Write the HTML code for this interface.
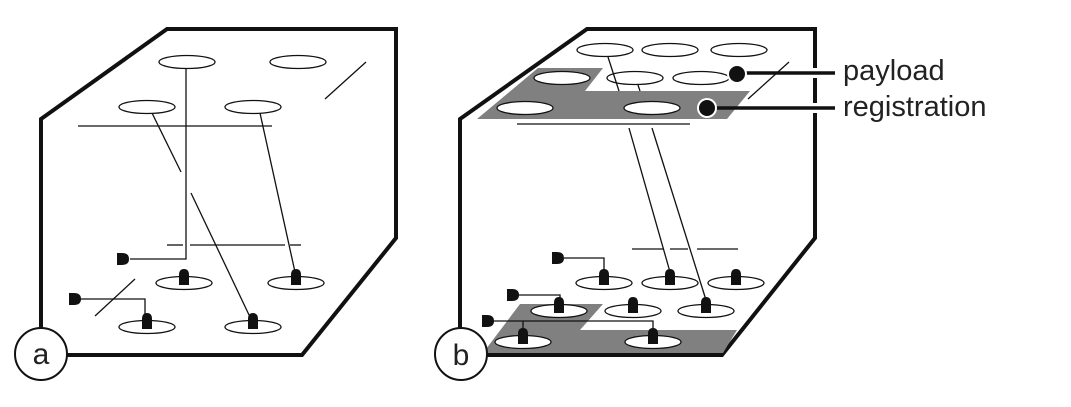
<!DOCTYPE html>
<html><head><meta charset="utf-8"><style>body{margin:0;background:#fff}svg{display:block}</style></head><body>
<svg width="1071" height="407" viewBox="0 0 1071 407" xmlns="http://www.w3.org/2000/svg">
<defs>
<g id="dome"><path d="M-5,2 L-5,-8 Q-5,-14 0,-14 Q5,-14 5,-8 L5,2 Z" fill="#111"/></g>
<g id="cap"><path d="M0,-6 L5,-6 Q12,-6 12,0 Q12,6 5,6 L0,6 Z" fill="#111"/></g>
</defs>
<g fill="none" stroke="#111">
<!-- cube a -->
<polygon points="41,119 167,29 396,29 396,238 302,355 41,355" stroke-width="4" fill="#fff"/>
<g stroke-width="1.3" fill="#fff">
<ellipse cx="187" cy="62" rx="28" ry="6.5"/><ellipse cx="298" cy="62" rx="28" ry="6.5"/>
<ellipse cx="147" cy="107" rx="28" ry="6.5"/><ellipse cx="253" cy="107" rx="28" ry="6.5"/>
<ellipse cx="184" cy="283" rx="28" ry="6.5"/><ellipse cx="296" cy="283" rx="28" ry="6.5"/>
<ellipse cx="147" cy="327" rx="28" ry="6.5"/><ellipse cx="253" cy="327" rx="28" ry="6.5"/>
</g>
<g stroke-width="1.3">
<line x1="78" y1="126" x2="272" y2="126"/>
<polyline points="186,69 186,259 130,259"/>
<line x1="152" y1="113" x2="181" y2="172"/><line x1="191" y1="193" x2="250" y2="317"/>
<line x1="260" y1="113" x2="295" y2="272"/>
<line x1="325" y1="99" x2="366" y2="62"/>
<line x1="167" y1="245" x2="183" y2="245"/><line x1="190" y1="245" x2="285" y2="245"/><line x1="290" y1="245" x2="301" y2="245"/>
<line x1="95" y1="316" x2="135" y2="279"/>
<polyline points="80,299 145,299 145,318"/>
</g>
</g>
<use href="#dome" x="184" y="283"/><use href="#dome" x="296" y="283"/>
<use href="#dome" x="147" y="327"/><use href="#dome" x="253" y="327"/>
<use href="#cap" x="117" y="259"/><use href="#cap" x="69" y="299"/>
<circle cx="41" cy="354" r="26" fill="#fff" stroke="#111" stroke-width="2"/>
<text x="41" y="364" font-family="Liberation Sans, sans-serif" font-size="30" text-anchor="middle" fill="#222">a</text>

<!-- cube b -->
<polygon points="460,119 587,29 815,29 815,238 722,355 460,355" stroke="#111" stroke-width="4" fill="#fff"/>
<polygon points="538,68 603,68 585,91 750,91 727,119 477,119" fill="#808080"/>
<polygon points="520,304 603,304 580,330 737,330 723,353 483,353" fill="#808080"/>
<g fill="#fff" stroke="#111" stroke-width="1.3">
<ellipse cx="605" cy="50" rx="28" ry="6.5"/><ellipse cx="670" cy="50" rx="28" ry="6.5"/><ellipse cx="739" cy="50" rx="28" ry="6.5"/>
<ellipse cx="562" cy="78" rx="28" ry="6.5"/><ellipse cx="635" cy="78" rx="28" ry="6.5"/><ellipse cx="701" cy="78" rx="28" ry="6.5"/>
<ellipse cx="525" cy="108" rx="28" ry="6.5"/><ellipse cx="652" cy="108" rx="28" ry="6.5"/>
<ellipse cx="604" cy="283" rx="28" ry="6.5"/><ellipse cx="670" cy="283" rx="28" ry="6.5"/><ellipse cx="736" cy="283" rx="28" ry="6.5"/>
<ellipse cx="559" cy="311" rx="28" ry="6.5"/><ellipse cx="633" cy="311" rx="28" ry="6.5"/><ellipse cx="706" cy="311" rx="28" ry="6.5"/>
<ellipse cx="523" cy="342" rx="28" ry="6.5"/><ellipse cx="653" cy="342" rx="28" ry="6.5"/>
</g>
<g fill="none" stroke="#111" stroke-width="1.3">
<line x1="608" y1="57" x2="619" y2="91"/><line x1="638" y1="85" x2="640" y2="91"/>
<line x1="517" y1="124" x2="690" y2="124"/>
<line x1="629" y1="128" x2="670" y2="272"/><line x1="652" y1="128" x2="706" y2="300"/>
<line x1="748" y1="99" x2="789" y2="62"/>
<line x1="632" y1="249" x2="663" y2="249"/><line x1="670" y1="249" x2="688" y2="249"/><line x1="697" y1="249" x2="738" y2="249"/>
<polyline points="564,258 604,258 604,272"/>
<polyline points="518,295 560,295 560,302"/>
<polyline points="493,321 653,321 653,332"/>
<line x1="523" y1="321" x2="523" y2="332"/>
</g>
<g>
<use href="#dome" x="604" y="283"/><use href="#dome" x="670" y="283"/><use href="#dome" x="736" y="283"/>
<use href="#dome" x="559" y="311"/><use href="#dome" x="633" y="311"/><use href="#dome" x="706" y="311"/>
<use href="#dome" x="523" y="342"/><use href="#dome" x="653" y="342"/>
<use href="#cap" x="552" y="258"/><use href="#cap" x="507" y="295"/><use href="#cap" x="482" y="321"/>
</g>
<circle cx="461" cy="354" r="26" fill="#fff" stroke="#111" stroke-width="2"/>
<text x="461" y="365" font-family="Liberation Sans, sans-serif" font-size="30" text-anchor="middle" fill="#222">b</text>
<!-- callouts -->
<line x1="808" y1="73" x2="822" y2="73" stroke="#fff" stroke-width="10"/>
<line x1="808" y1="108" x2="822" y2="108" stroke="#fff" stroke-width="10"/>
<line x1="737" y1="73" x2="835" y2="73" stroke="#111" stroke-width="3.5"/>
<line x1="707" y1="108" x2="835" y2="108" stroke="#111" stroke-width="3.5"/>
<circle cx="737" cy="74" r="10" fill="#fff"/><circle cx="737" cy="74" r="8" fill="#111"/>
<circle cx="707" cy="108" r="10" fill="#fff"/><circle cx="707" cy="108" r="8" fill="#111"/>
<text x="843" y="80" font-family="Liberation Sans, sans-serif" font-size="29" fill="#222">payload</text>
<text x="843" y="116" font-family="Liberation Sans, sans-serif" font-size="29" fill="#222">registration</text>
</svg>
</body></html>
